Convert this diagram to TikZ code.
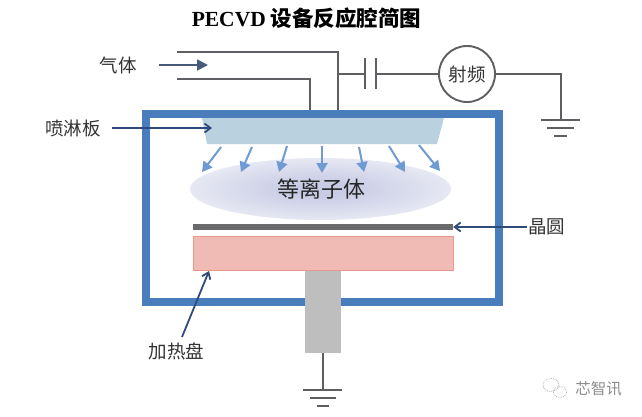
\documentclass[tikz,border=0pt]{standalone}
\usepackage{fontspec}
\setmainfont{Noto Sans CJK SC}
\newfontfamily\titlelatin{Liberation Serif}[Scale=1]
\usetikzlibrary{arrows.meta,calc}
\definecolor{wirec}{HTML}{5F5F63}
\definecolor{chamberc}{HTML}{4A7DBB}
\definecolor{platec}{HTML}{BAD2E0}
\definecolor{spray}{HTML}{6E9BD3}
\definecolor{labelarrow}{HTML}{2F4B7C}
\definecolor{gasarrow}{HTML}{465A7C}
\definecolor{txt}{HTML}{333333}
\definecolor{wafer}{HTML}{6A6A6C}
\definecolor{heater}{HTML}{F0BAB5}
\definecolor{heaterline}{HTML}{E9998C}
\definecolor{pedestal}{HTML}{BEBEBE}
\definecolor{plasmain}{HTML}{C8CBE4}
\definecolor{plasmaout}{HTML}{E6E8F3}
\pgfdeclareradialshading{plasmashade}{\pgfpointorigin}{
  color(0bp)=(plasmain); color(5bp)=(plasmain); color(25bp)=(plasmaout); color(50bp)=(plasmaout)}
\tikzset{
  x=1pt,y=-1pt,
  wire/.style={draw=wirec,line width=1.9pt},
  plateline/.style={draw=wirec,line width=2.2pt},
  labeltext/.style={text=txt,font=\fontsize{18.5}{20}\selectfont,inner sep=0pt},
  labelarrow/.style={draw=labelarrow,line width=1.8pt,-{Straight Barb[length=6pt,width=9pt,line width=1.8pt]}},
  sprayarrow/.style={draw=spray,line width=2pt,-{Triangle[length=10pt,width=11pt]}},
}
\begin{document}
\begin{tikzpicture}
\useasboundingbox (0,0) rectangle (642,416);
% title
\node[inner sep=0pt,anchor=center] (title) at (306.5,18)
  {\fontsize{21.5}{24}\selectfont\bfseries{\titlelatin\bfseries PECVD} 设备反应腔简图};
% plasma
\shade[shading=plasmashade] (320.5,189) ellipse [x radius=130.5,y radius=31];
\node[inner sep=0pt,text=black!85,font=\fontsize{22}{24}\selectfont] (plasma) at (321,189) {等离子体};
% shower plate
\fill[platec] (202,118) -- (444,118) -- (437,144) -- (207,144) -- cycle;
% chamber
\draw[chamberc,line width=8pt] (146,114) rectangle (499,302);
\coordinate (chamberA) at (310,110);
\coordinate (chamberB) at (338,110);
% wafer and heater
\node[fill=wafer,inner sep=0pt,minimum width=260pt,minimum height=6pt] (waferbar) at (323,227) {};
\node[fill=heater,draw=heaterline,line width=.7pt,inner sep=0pt,minimum width=260pt,minimum height=34pt] (heaterblock) at (323,253) {};
\node[fill=pedestal,inner sep=0pt,minimum width=36pt,minimum height=82pt,anchor=north] (ped) at (323,270.5) {};
% gas lines
\coordinate (gasT) at (177,52);
\coordinate (gasL) at (177,79);
\draw[wire] (gasT) -| (chamberB);
\draw[wire] (gasL) -| (chamberA);
% capacitor and RF
\coordinate (capJ) at (338,74);
\coordinate (capA) at (365,74);
\coordinate (capB) at (376,74);
\coordinate (capAt) at (365,58);
\coordinate (capAb) at (365,89);
\coordinate (capBt) at (376,58);
\coordinate (capBb) at (376,89);
\draw[wire] (capJ) -- (capA);
\draw[plateline] (capAt) -- (capAb);
\draw[plateline] (capBt) -- (capBb);
\node[circle,draw=wirec,line width=1.9pt,minimum size=56pt,inner sep=0pt,labeltext] (rf) at (467,74) {射频};
\draw[wire] (capB) -- (rf);
% ground right
\coordinate (g1) at (561,120);
\coordinate (g1a) at (541,120);\coordinate (g1b) at (580,120);
\coordinate (g1c) at (547,128);\coordinate (g1d) at (574,128);
\coordinate (g1e) at (554,136);\coordinate (g1f) at (567,136);
\draw[wire] (rf.east) -| (g1);
\draw[wire] (g1a) -- (g1b);
\draw[wire] (g1c) -- (g1d);
\draw[wire] (g1e) -- (g1f);
% ground bottom
\coordinate (g2) at (323,390);
\coordinate (g2a) at (303,390);\coordinate (g2b) at (342,390);
\coordinate (g2c) at (310,398);\coordinate (g2d) at (336,398);
\coordinate (g2e) at (317,406);\coordinate (g2f) at (329,406);
\draw[wire] (ped.south) -- (g2);
\draw[wire] (g2a) -- (g2b);
\draw[wire] (g2c) -- (g2d);
\draw[wire] (g2e) -- (g2f);
% spray arrows
\foreach \xa/\ya/\xb/\yb in {221/147/202/172,252/147/241/172,287/146/279/172,322/146/322/173,359/147/364/172,389/146/405/172,419/145/440/171}
  \draw[sprayarrow] (\xa,\ya) -- (\xb,\yb);
% labels
\node[labeltext] (gas) at (118,65) {气体};
\node[labeltext] (shower) at (73,128) {喷淋板};
\node[labeltext] (waferlabel) at (546.5,227) {晶圆};
\node[labeltext] (heatlabel) at (176.5,351) {加热盘};
\coordinate (gasS) at (159,65);
\coordinate (gasE) at (208,65);
\coordinate (showerS) at (112,128);
\coordinate (showerE) at (212,128);
\coordinate (waferS) at (527,227);
\coordinate (heatS) at (182,337);
\coordinate (heatE) at (209,271);
\draw[draw=gasarrow,fill=gasarrow,line width=1.8pt,-{Triangle[length=11pt,width=11pt]}] (gasS) -- (gasE);
\draw[labelarrow] (showerS) -- (showerE);
\draw[labelarrow] (waferS) -- (waferbar.east);
\draw[labelarrow] (heatS) -- (heatE);
% watermark
\draw[gray!60,densely dotted,line width=.8pt] (551,385) ellipse [x radius=8,y radius=6.5];
\draw[gray!60,densely dotted,line width=.8pt] (560,392) ellipse [x radius=6.5,y radius=5.5];
\node[inner sep=0pt,text=gray!90,font=\fontsize{15.5}{17}\selectfont] (mark) at (598.5,389) {芯智讯};
\end{tikzpicture}
\end{document}
